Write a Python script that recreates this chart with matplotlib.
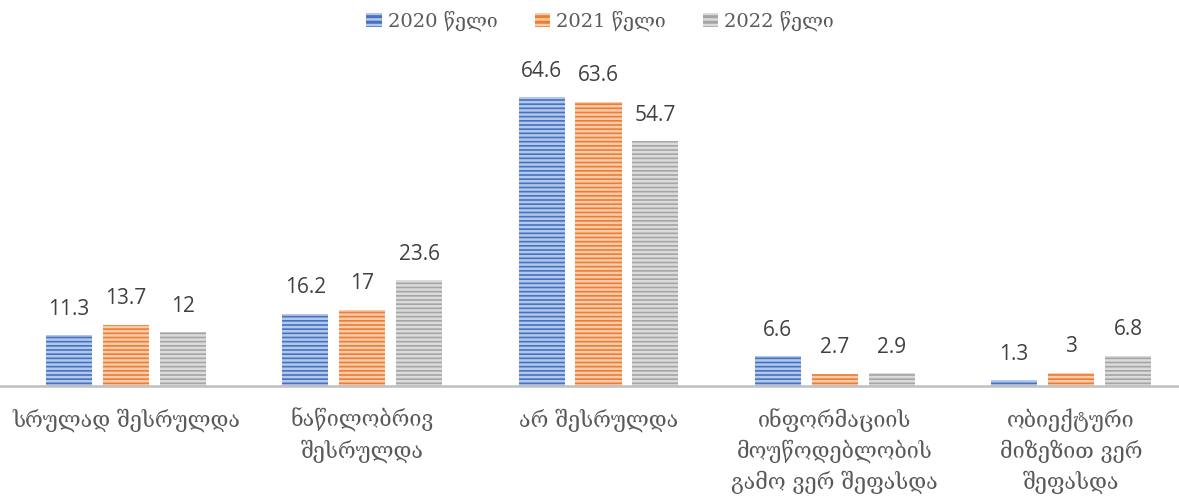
import numpy as np
import matplotlib.pyplot as plt
from matplotlib.patches import Patch
from matplotlib.colors import to_rgb

plt.rcParams['hatch.linewidth'] = 1.8

categories = [
    "სრულად შესრულდა",
    "ნაწილობრივ\nშესრულდა",
    "არ შესრულდა",
    "ინფორმაციის\nმოუწოდებლობის\nგამო ვერ შეფასდა",
    "ობიექტური\nმიზეზით ვერ\nშეფასდა",
]
series_names = ["2020 წელი", "2021 წელი", "2022 წელი"]
values_2020 = [11.3, 16.2, 64.6, 6.6, 1.3]
values_2021 = [13.7, 17, 63.6, 2.7, 3]
values_2022 = [12, 23.6, 54.7, 2.9, 6.8]
value_labels = [
    ["11.3", "16.2", "64.6", "6.6", "1.3"],
    ["13.7", "17", "63.6", "2.7", "3"],
    ["12", "23.6", "54.7", "2.9", "6.8"],
]
series = [values_2020, values_2021, values_2022]
colors = ["#4472C4", "#ED7D31", "#A5A5A5"]


def light(c, f=0.6):
    r, g, b = to_rgb(c)
    return (r + (1 - r) * f, g + (1 - g) * f, b + (1 - b) * f)


geo_font = ['DejaVu Serif', 'DejaVu Sans']

fig = plt.figure(figsize=(11.79, 4.99), dpi=100)
ax = fig.add_axes([0, 113 / 499, 1, (386 - 73) / 499])

x = np.arange(len(categories))
width = 0.195
step = 0.241
for k, (vals, col) in enumerate(zip(series, colors)):
    pos = x + (k - 1) * step
    bars = ax.bar(pos, vals, width, color=col, edgecolor=light(col), hatch='----',
                  linewidth=0, zorder=2)
    for b, lab in zip(bars, value_labels[k]):
        ax.annotate(lab, (b.get_x() + b.get_width() / 2, b.get_height()),
                    xytext=(0, 26), textcoords='offset pixels', ha='center',
                    va='center', fontsize=15, color='#404040',
                    family='Open Sans')

ax.set_xlim(-0.533, 4.457)
ax.set_ylim(0, 70)
ax.set_yticks([])
ax.set_xticks([])
for s in ['top', 'right', 'left']:
    ax.spines[s].set_visible(False)
ax.spines['bottom'].set_color('#BFBFBF')
ax.spines['bottom'].set_linewidth(1.8)

# category labels, one text per line, lines 31 px apart
for i, cat in enumerate(categories):
    for j, line in enumerate(cat.split("\n")):
        ax.annotate(line, (i, 0), xycoords=ax.get_xaxis_transform(),
                    xytext=(0, -(34 + 31 * j)), textcoords='offset pixels',
                    ha='center', va='center', fontsize=15.5, color='#595959',
                    family=geo_font)

handles = [Patch(facecolor=c, edgecolor=light(c), hatch='---', linewidth=0)
           for c in colors]
fig.legend(handles, series_names, loc='center', bbox_to_anchor=(0.509, 1 - 21 / 499),
           ncol=3, frameon=False, handlelength=0.8, handleheight=0.8,
           handletextpad=0.3, columnspacing=1.9,
           prop={'family': geo_font, 'size': 14}, labelcolor='#595959')

fig.savefig('out.png', dpi=100)
